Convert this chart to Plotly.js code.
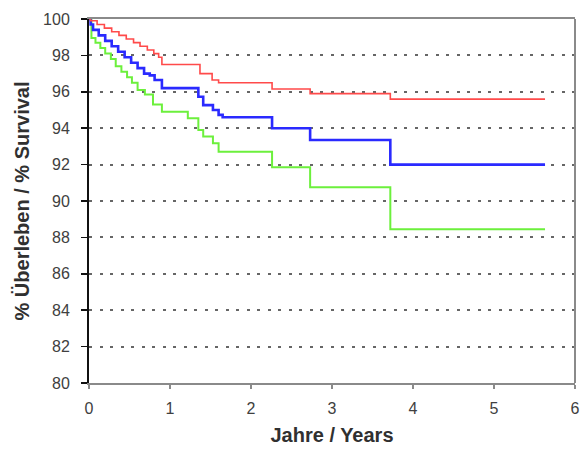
<!DOCTYPE html>
<html>
<head>
<meta charset="utf-8">
<script src="https://cdn.plot.ly/plotly-3.0.1.min.js"></script>
<style>html,body{margin:0;padding:0;background:#fff;}#chart{width:586px;height:455px;}</style>
</head>
<body>
<div id="chart"></div>
<script>
// Years (step times) and survival (%) for each curve
const redYears  = [0, 0.02, 0.10, 0.19, 0.28, 0.37, 0.46, 0.55, 0.63, 0.72, 0.80, 0.86, 0.90, 1.37, 1.52, 1.60, 2.26, 2.73, 3.72, 5.63];
const redSurv   = [100, 99.9, 99.7, 99.5, 99.3, 99.1, 98.9, 98.7, 98.5, 98.3, 98.1, 97.9, 97.5, 97.0, 96.65, 96.5, 96.15, 95.9, 95.6, 95.6];

const blueYears = [0, 0.02, 0.05, 0.12, 0.20, 0.28, 0.36, 0.44, 0.52, 0.60, 0.68, 0.75, 0.81, 0.90, 1.35, 1.41, 1.53, 1.60, 1.65, 2.26, 2.73, 3.72, 5.63];
const blueSurv  = [100, 99.7, 99.4, 99.1, 98.8, 98.5, 98.2, 97.9, 97.6, 97.3, 97.0, 96.9, 96.65, 96.2, 95.73, 95.27, 95.0, 94.73, 94.6, 94.0, 93.35, 92.0, 92.0];

const greenYears = [0, 0.03, 0.08, 0.14, 0.20, 0.27, 0.33, 0.40, 0.47, 0.53, 0.60, 0.69, 0.79, 0.90, 1.22, 1.35, 1.41, 1.53, 1.60, 2.26, 2.73, 3.72, 5.63];
const greenSurv  = [100, 98.95, 98.7, 98.4, 98.1, 97.8, 97.4, 97.1, 96.8, 96.5, 96.1, 95.85, 95.3, 94.9, 94.55, 93.9, 93.55, 93.17, 92.7, 91.85, 90.75, 88.45, 88.45];

const xTicks = [0, 1, 2, 3, 4, 5, 6];
const yTicks = [80, 82, 84, 86, 88, 90, 92, 94, 96, 98, 100];

const traces = [
  {x: greenYears, y: greenSurv, mode: 'lines', line: {shape: 'hv', color: '#6cf03c', width: 2}, hoverinfo: 'x+y'},
  {x: blueYears, y: blueSurv, mode: 'lines', line: {shape: 'hv', color: '#2a2aff', width: 2.6}, hoverinfo: 'x+y'},
  {x: redYears, y: redSurv, mode: 'lines', line: {shape: 'hv', color: '#ff4a4a', width: 1.6}, hoverinfo: 'x+y'}
];

const tickFont = {family: 'Liberation Sans, Arial, sans-serif', size: 16, color: '#404040'};
const titleFont = {family: 'Liberation Sans, Arial, sans-serif', size: 20, color: '#303030', weight: 'bold'};

const layout = {
  width: 586, height: 455,
  margin: {l: 89, r: 11, t: 19, b: 72},
  paper_bgcolor: '#ffffff', plot_bgcolor: '#ffffff',
  showlegend: false,
  xaxis: {
    range: [0, 6], tickvals: xTicks, ticktext: xTicks.map(String),
    showgrid: false, zeroline: false,
    showline: true, linecolor: '#8a8a8a', linewidth: 2, mirror: true,
    ticks: 'outside', ticklen: 4, tickcolor: '#8a8a8a', tickwidth: 1.5,
    tickfont: tickFont, ticklabelstandoff: 6,
    title: {text: '<b>Jahre / Years</b>', font: titleFont, standoff: 12}
  },
  yaxis: {
    range: [80, 100], tickvals: yTicks, ticktext: yTicks.map(String),
    showgrid: true, gridcolor: '#666666', gridwidth: 2, griddash: '3px,7.5px',
    zeroline: false,
    showline: true, linecolor: '#111111', linewidth: 2,
    ticks: 'outside', ticklen: 6, tickcolor: '#111111', tickwidth: 1.5,
    tickfont: tickFont, ticklabelstandoff: 8,
    title: {text: '<b>% Überleben / % Survival</b>', font: titleFont, standoff: 8}
  },
  shapes: [
    {type: 'line', xref: 'paper', yref: 'paper', x0: 1, x1: 1, y0: 0, y1: 1, line: {color: '#8a8a8a', width: 2}}
  ]
};

Plotly.newPlot('chart', traces, layout, {staticPlot: true, displayModeBar: false});
</script>
</body>
</html>
